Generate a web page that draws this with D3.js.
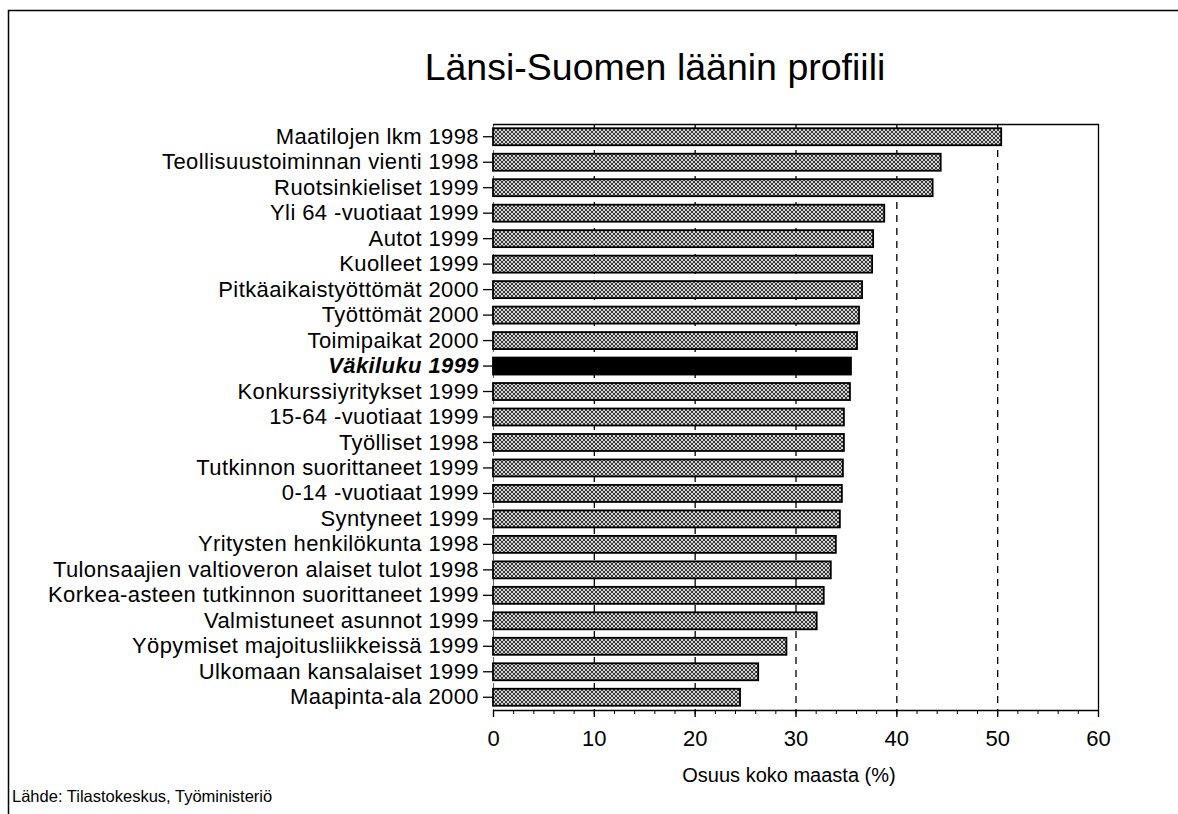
<!DOCTYPE html>
<html>
<head>
<meta charset="utf-8">
<script src="https://cdn.jsdelivr.net/npm/d3@7"></script>
<style>
  html, body { margin: 0; padding: 0; background: #fff; }
  svg { display: block; font-family: "Liberation Sans", Arial, Helvetica, sans-serif; }
</style>
</head>
<body>
<svg id="chart" width="1178" height="814"></svg>
<script>
// Indicators, top to bottom
const categories = [
  "Maatilojen lkm 1998",
  "Teollisuustoiminnan vienti 1998",
  "Ruotsinkieliset 1999",
  "Yli 64 -vuotiaat 1999",
  "Autot 1999",
  "Kuolleet 1999",
  "Pitkäaikaistyöttömät 2000",
  "Työttömät 2000",
  "Toimipaikat 2000",
  "Väkiluku 1999",
  "Konkurssiyritykset 1999",
  "15-64 -vuotiaat 1999",
  "Työlliset 1998",
  "Tutkinnon suorittaneet 1999",
  "0-14 -vuotiaat 1999",
  "Syntyneet 1999",
  "Yritysten henkilökunta 1998",
  "Tulonsaajien valtioveron alaiset tulot 1998",
  "Korkea-asteen tutkinnon suorittaneet 1999",
  "Valmistuneet asunnot 1999",
  "Yöpymiset majoitusliikkeissä 1999",
  "Ulkomaan kansalaiset 1999",
  "Maapinta-ala 2000"
];

// Share of the whole country (%)
const shares = [
  50.4, 44.4, 43.6, 38.8, 37.7, 37.6, 36.6, 36.3, 36.1, 35.5, 35.4, 34.8,
  34.8, 34.7, 34.6, 34.4, 34.0, 33.5, 32.8, 32.1, 29.1, 26.3, 24.5
];

// Reference indicator drawn in black
const highlighted = "Väkiluku 1999";

const xTickValues = [0, 10, 20, 30, 40, 50, 60];
const xMinorTickValues = d3.range(0, 61, 2);
const gridValues = [0, 10, 20, 30, 40, 50];

const titleText = "Länsi-Suomen läänin profiili";
const xAxisTitle = "Osuus koko maasta (%)";
const sourceText = "Lähde: Tilastokeskus, Työministeriö";

const rows = categories.map((c, i) => ({ name: c, value: shares[i] }));

const svg = d3.select("#chart");
const plot = { left: 493, right: 1098, top: 124, bottom: 710 };

const x = d3.scaleLinear().domain([0, 60]).range([plot.left, plot.right]);
const y = d3.scaleBand()
  .domain(categories)
  .range([plot.top, plot.bottom])
  .paddingInner(0.333)
  .paddingOuter(0.167);

// Cross-hatched grey fill for the bars
const defs = svg.append("defs");
const pat = defs.append("pattern")
  .attr("id", "dither")
  .attr("width", 4).attr("height", 4)
  .attr("patternUnits", "userSpaceOnUse");
pat.append("rect").attr("width", 4).attr("height", 4).attr("fill", "#d2d2d2");
[[0, 0], [1, 1], [2, 2], [3, 3], [3, 0], [2, 1], [1, 2], [0, 3]].forEach(([px, py]) => {
  pat.append("rect").attr("x", px).attr("y", py).attr("width", 1).attr("height", 1).attr("fill", "#383838");
});

// Outer frame (top and left edges)
svg.append("path")
  .attr("d", "M8.5,814 L8.5,10.5 L1178,10.5")
  .attr("fill", "none").attr("stroke", "#000").attr("stroke-width", 1.5);

// Title
svg.append("text")
  .attr("x", 655).attr("y", 80)
  .attr("text-anchor", "middle")
  .attr("font-size", 37.5)
  .attr("fill", "#000")
  .text(titleText);

// Dashed vertical gridlines
svg.append("g")
  .selectAll("line")
  .data(gridValues)
  .join("line")
  .attr("x1", d => x(d) + 0.5).attr("x2", d => x(d) + 0.5)
  .attr("y1", plot.top).attr("y2", plot.bottom)
  .attr("stroke", "#000")
  .attr("stroke-width", d => d === 0 ? 0.6 : 1.3)
  .attr("stroke-dasharray", "7,6");

// Plot border: top and right
svg.append("path")
  .attr("d", `M${plot.left},${plot.top + 0.5} L${plot.right + 0.5},${plot.top + 0.5} L${plot.right + 0.5},${plot.bottom}`)
  .attr("fill", "none").attr("stroke", "#000").attr("stroke-width", 1.3);

// Bars
svg.append("g")
  .selectAll("rect")
  .data(rows)
  .join("rect")
  .attr("x", x(0))
  .attr("y", d => y(d.name))
  .attr("width", d => x(d.value) - x(0))
  .attr("height", y.bandwidth())
  .attr("fill", d => d.name === highlighted ? "#000" : "url(#dither)")
  .attr("stroke", "#000")
  .attr("stroke-width", 1.8);

// Category axis
const yAxis = svg.append("g")
  .attr("transform", `translate(${plot.left},0)`)
  .call(d3.axisLeft(y).tickSize(10).tickPadding(4));
yAxis.select(".domain").remove();
yAxis.selectAll(".tick line").attr("stroke", "#000").attr("stroke-width", 1.3);
yAxis.selectAll(".tick text")
  .attr("font-size", 22)
  .attr("letter-spacing", 0.4)
  .attr("fill", "#000")
  .attr("font-family", "'Liberation Sans', Arial, sans-serif")
  .attr("font-weight", d => d === highlighted ? "bold" : "normal")
  .attr("font-style", d => d === highlighted ? "italic" : "normal");

// Value axis: minor ticks
svg.append("g")
  .attr("transform", `translate(0,${plot.bottom})`)
  .call(d3.axisBottom(x).tickValues(xMinorTickValues).tickSize(4).tickFormat(""))
  .call(g => g.select(".domain").remove())
  .call(g => g.selectAll(".tick line").attr("stroke", "#000").attr("stroke-width", 1));

// Value axis: major ticks and labels
const xAxis = svg.append("g")
  .attr("transform", `translate(0,${plot.bottom})`)
  .call(d3.axisBottom(x).tickValues(xTickValues).tickSize(7).tickPadding(13).tickSizeOuter(0));
xAxis.select(".domain").attr("stroke", "#000").attr("stroke-width", 1.5);
xAxis.selectAll(".tick line").attr("stroke", "#000").attr("stroke-width", 1.4);
xAxis.selectAll(".tick text")
  .attr("font-size", 22)
  .attr("fill", "#000")
  .attr("font-family", "'Liberation Sans', Arial, sans-serif");

// Axis title
svg.append("text")
  .attr("x", 789).attr("y", 782)
  .attr("text-anchor", "middle")
  .attr("font-size", 20)
  .attr("fill", "#000")
  .text(xAxisTitle);

// Source note
svg.append("text")
  .attr("x", 12).attr("y", 802)
  .attr("font-size", 16.5)
  .attr("fill", "#000")
  .text(sourceText);
</script>
</body>
</html>
